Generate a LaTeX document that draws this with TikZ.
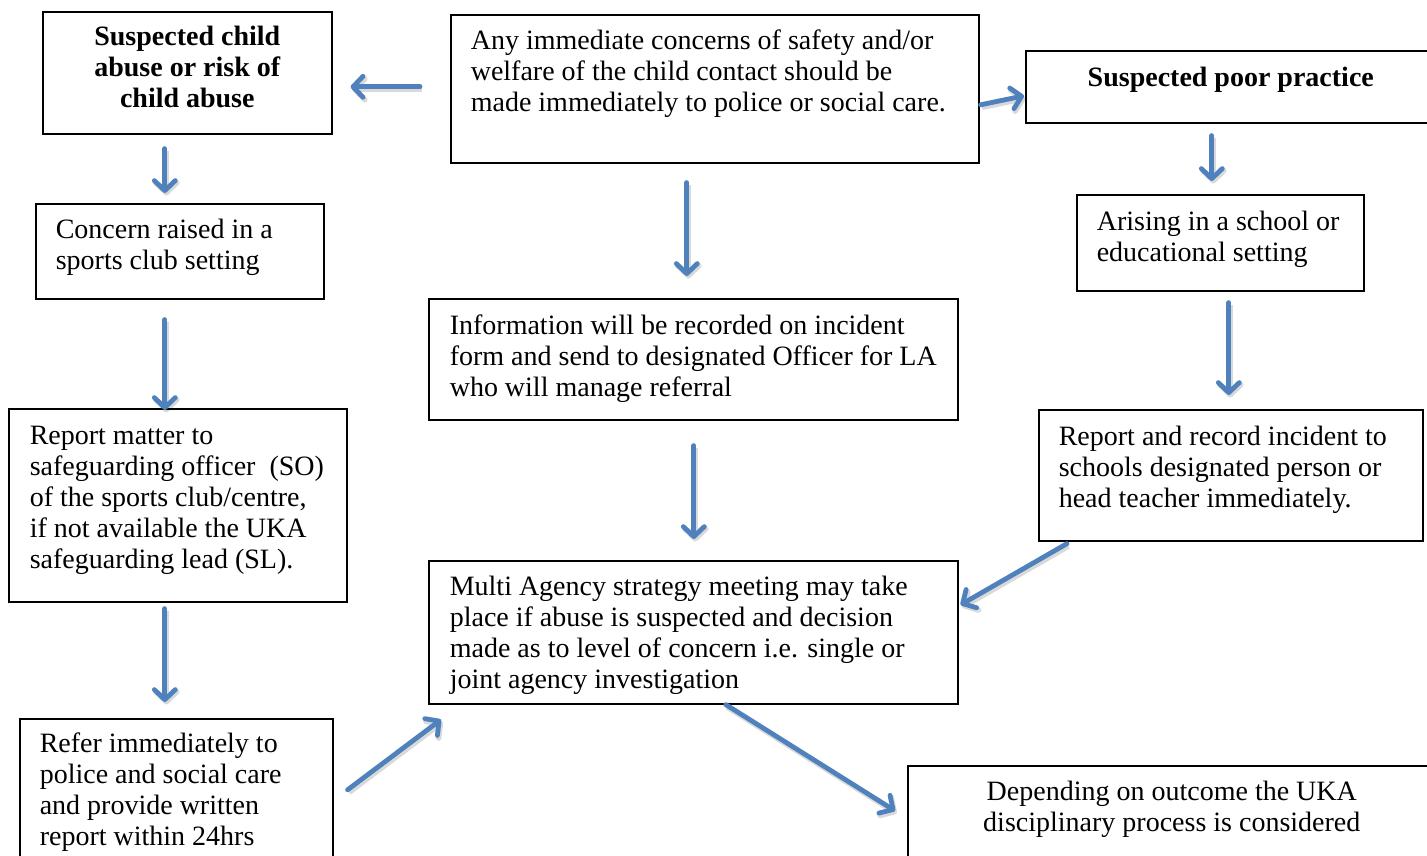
\documentclass[tikz,border=0pt]{standalone}
\usepackage{fontspec}
\setmainfont{Liberation Serif}
\usetikzlibrary{arrows.meta}
\definecolor{arrblue}{HTML}{4F81BD}
% #1 width, #2 height, #3 first baseline from top, #4 leftskip, #5 rightskip, #6 text
\newcommand{\boxtxt}[6]{%
\vbox to #2{\hsize=#1\relax\parindent=0pt\leftskip=#4\relax\rightskip=#5\relax
\parfillskip=0pt\relax\fontsize{28pt}{31pt}\selectfont\baselineskip=31pt\relax
\lineskiplimit=-100pt\relax\hyphenpenalty=10000\relax
\kern\dimexpr#3-31pt\relax\hbox{}%
\noindent #6\par\vss}}
\newcommand{\lb}[5]{\boxtxt{#1}{#2}{#3}{#4}{0pt plus 1fil}{#5}}
\newcommand{\cb}[4]{\boxtxt{#1}{#2}{#3}{0pt plus 1fil}{0pt plus 1fil}{#4}}
\newcommand{\nl}{\unskip\break}
\begin{document}
\begin{tikzpicture}[x=1pt,y=-1pt,
  flowbox/.style={draw, line width=1.6pt, inner sep=0pt, anchor=north west},
  arr/.style={draw=arrblue, line width=4.8pt, line cap=round,
    -{Straight Barb[length=10pt,width=21pt,round]},
    preaction={draw=black, opacity=0.15, line width=5.5pt,
      transform canvas={shift={(1.5pt,-2.5pt)}}}}]
\fill[white] (0,0) rectangle (1427,855);
\useasboundingbox (0,0) rectangle (1427,855);

\node[flowbox] (abuse) at (42,11)
  {\cb{289pt}{122pt}{34pt}{\bfseries Suspected child\nl abuse or risk of\nl child abuse}};
\node[flowbox] (concerns) at (450,14)
  {\lb{528pt}{148pt}{35pt}{20pt}{Any immediate concerns of safety and/or\nl welfare of the child contact should be\nl made immediately to police or social care.}};
\node[flowbox] (poor) at (1025,50)
  {\cb{410pt}{72pt}{36pt}{\bfseries Suspected poor practice}};
\node[flowbox] (craised) at (35,203)
  {\lb{288pt}{95pt}{35pt}{20pt}{Concern raised in a\nl sports club setting}};
\node[flowbox] (arising) at (1076,194)
  {\lb{287pt}{96pt}{36pt}{20pt}{Arising in a school or\nl educational setting}};
\node[flowbox] (info) at (428,298)
  {\lb{529pt}{121pt}{36pt}{21pt}{Information will be recorded on incident\nl form and send to designated Officer for LA\nl who will manage referral}};
\node[flowbox] (rmatter) at (8,408)
  {\lb{338pt}{193pt}{36pt}{21pt}{Report matter to\nl safeguarding officer~~(SO)\nl of the sports club/centre,\nl if not available the UKA\nl safeguarding lead (SL).}};
\node[flowbox] (rrecord) at (1038,409)
  {\lb{384pt}{131pt}{36pt}{20pt}{Report and record incident to\nl schools designated person or\nl head teacher immediately.}};
\node[flowbox] (multi) at (428,560)
  {\lb{529pt}{143pt}{35pt}{21pt}{Multi Agency strategy meeting may take\nl place if abuse is suspected and decision\nl made as to level of concern i.e. single or\nl joint agency investigation}};
\node[flowbox] (refer) at (19,718)
  {\lb{313pt}{160pt}{34pt}{20pt}{Refer immediately to\nl police and social care\nl and provide written\nl report within 24hrs}};
\node[flowbox] (depend) at (907,765)
  {\cb{528pt}{120pt}{35pt}{Depending on outcome the UKA\nl disciplinary process is considered}};

\draw[arr] ([shift={(-30,-2)}]concerns.west) -- ([shift={(18,14)}]abuse.east);
\draw[arr] ([shift={(1,16)}]concerns.east) -- ([shift={(-1,9)}]poor.west);
\draw[arr] ([shift={(-22.5,14)}]abuse.south) -- ([shift={(-15,-10)}]craised.north);
\draw[arr] ([shift={(-28,19)}]concerns.south) -- ([shift={(-6.5,-22)}]info.north);
\draw[arr] ([shift={(-19,12)}]poor.south) -- ([shift={(-8.5,-13)}]arising.north);
\draw[arr] ([shift={(-15,20)}]craised.south) -- ([shift={(-13,2)}]rmatter.north);
\draw[arr] ([shift={(-13,6)}]rmatter.south) -- ([shift={(-11.5,-16)}]refer.north);
\draw[arr] ([shift={(0.5,25)}]info.south) -- ([shift={(0.5,-21)}]multi.north);
\draw[arr] ([shift={(8.5,11)}]arising.south) -- ([shift={(-2,-14)}]rrecord.north);
\draw[arr] ([shift={(29,2)}]rrecord.south west) -- ([shift={(2,-27.5)}]multi.east);
\draw[arr] ([shift={(14,-9)}]refer.east) -- ([shift={(13,15)}]multi.south west);
\draw[arr] ([shift={(32.5,0)}]multi.south) -- ([shift={(-12,-15)}]depend.west);
\end{tikzpicture}
\end{document}
